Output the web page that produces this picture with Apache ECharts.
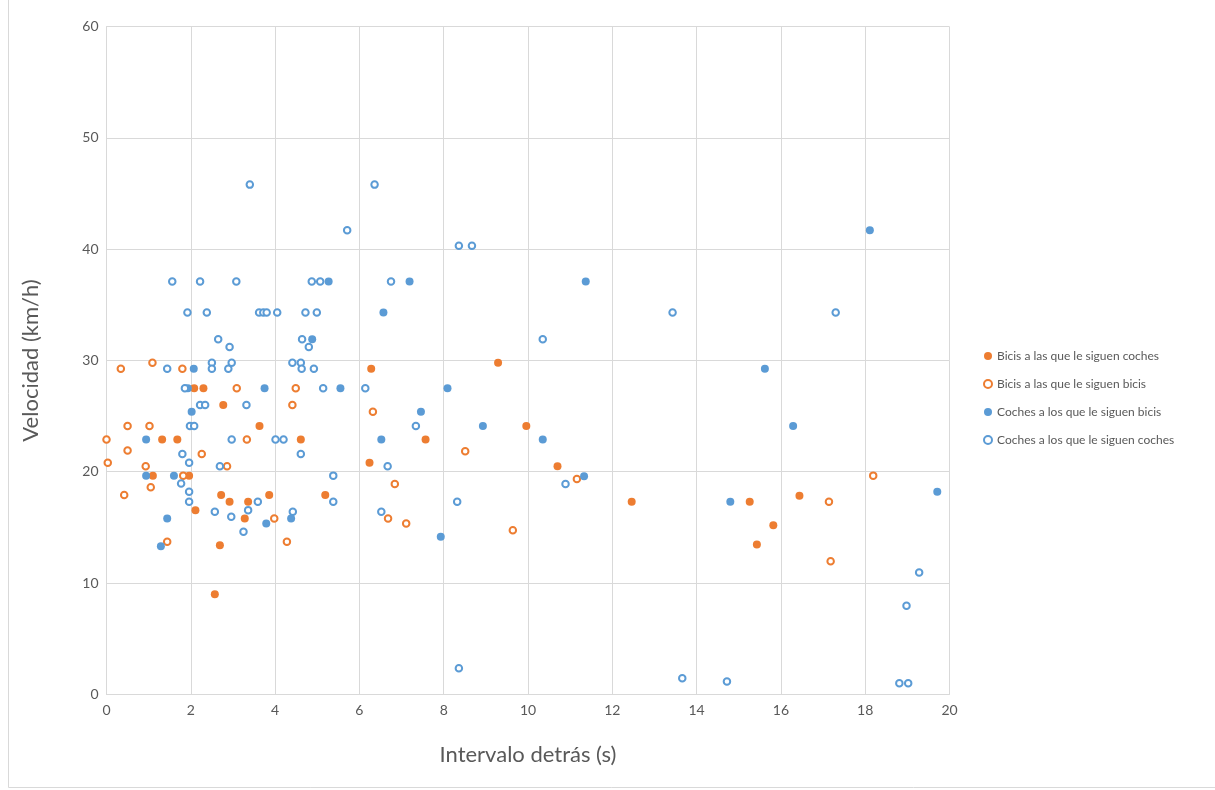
<!DOCTYPE html>
<html>
<head>
<meta charset="utf-8">
<title>Velocidad frente a intervalo detrás</title>
<script src="https://cdn.jsdelivr.net/npm/echarts@6/dist/echarts.min.js"></script>
<style>
  html, body { margin: 0; padding: 0; background: #ffffff; }
  #chart { width: 1215px; height: 790px; }
</style>
</head>
<body>
<div id="chart"></div>
<script>
// Axis ticks
const xTicks = { min: 0, max: 20, step: 2 };
const yTicks = { min: 0, max: 60, step: 10 };

// Series names (legend order)
const seriesNames = [
  'Bicis a las que le siguen coches',
  'Bicis a las que le siguen bicis',
  'Coches a los que le siguen bicis',
  'Coches a los que le siguen coches'
];

// [intervalo detrás (s), velocidad (km/h)]
const bicisCoches = [
  [2.57, 9.0], [2.69, 13.4], [2.11, 16.55], [3.28, 15.8], [2.92, 17.3], [3.36, 17.3],
  [2.72, 17.9], [3.86, 17.9], [1.10, 19.65], [1.96, 19.65], [1.32, 22.9], [1.68, 22.9],
  [4.61, 22.9], [3.63, 24.1], [2.77, 26.0], [2.08, 27.5], [2.30, 27.5], [5.19, 17.9],
  [6.24, 20.8], [6.28, 29.25], [7.57, 22.9], [9.29, 29.8], [9.96, 24.1], [10.7, 20.5],
  [12.46, 17.3], [15.26, 17.3], [15.43, 13.45], [15.82, 15.2], [16.44, 17.85]
];

const bicisBicis = [
  [0.0, 22.9], [0.03, 20.8], [0.34, 29.25], [0.42, 17.9], [0.50, 21.9], [0.50, 24.1],
  [0.93, 20.5], [1.02, 24.1], [1.05, 18.6], [1.09, 29.8], [1.44, 13.7], [1.80, 29.25],
  [1.82, 19.65], [2.26, 21.6], [2.86, 20.5], [3.09, 27.5], [3.33, 22.9], [3.98, 15.8],
  [4.28, 13.7], [4.41, 26.0], [4.49, 27.5], [6.32, 25.4], [6.68, 15.8], [6.84, 18.9],
  [7.11, 15.35], [8.51, 21.85], [9.64, 14.75], [11.16, 19.35], [17.14, 17.3],
  [17.18, 11.95], [18.19, 19.65]
];

const cochesBicis = [
  [0.94, 22.9], [0.94, 19.65], [1.29, 13.3], [1.44, 15.8], [1.60, 19.65], [1.93, 27.5],
  [2.02, 25.4], [2.07, 29.25], [3.75, 27.5], [3.79, 15.35], [4.38, 15.8], [4.88, 31.9],
  [5.27, 37.1], [5.55, 27.5], [6.52, 22.9], [6.57, 34.3], [7.19, 37.1], [7.46, 25.4],
  [7.93, 14.15], [8.09, 27.5], [8.93, 24.1], [10.35, 22.9], [11.33, 19.6], [11.37, 37.1],
  [14.80, 17.3], [15.62, 29.25], [16.29, 24.1], [18.11, 41.7], [19.71, 18.2]
];

const cochesCoches = [
  [1.44, 29.25], [1.56, 37.1], [1.77, 18.95], [1.80, 21.6], [1.86, 27.5], [1.92, 34.3],
  [1.96, 20.8], [1.96, 18.2], [1.96, 17.3], [1.98, 24.1], [2.08, 24.1], [2.22, 37.1],
  [2.22, 26.0], [2.34, 26.0], [2.38, 34.3], [2.50, 29.8], [2.50, 29.25], [2.57, 16.4],
  [2.65, 31.9], [2.69, 20.5], [2.89, 29.25], [2.92, 31.2], [2.96, 15.95], [2.97, 22.9],
  [2.97, 29.8], [3.08, 37.1], [3.25, 14.6], [3.32, 26.0], [3.36, 16.55], [3.40, 45.8],
  [3.59, 17.3], [3.62, 34.3], [3.72, 34.3], [3.80, 34.3], [4.01, 22.9], [4.05, 34.3],
  [4.20, 22.9], [4.41, 29.8], [4.42, 16.4], [4.61, 21.6], [4.61, 29.8], [4.63, 29.25],
  [4.64, 31.9], [4.72, 34.3], [4.80, 31.2], [4.87, 37.1], [4.92, 29.25], [4.99, 34.3],
  [5.07, 37.1], [5.14, 27.5], [5.38, 19.65], [5.38, 17.3], [5.71, 41.7], [6.14, 27.5],
  [6.36, 45.8], [6.52, 16.4], [6.67, 20.5], [6.75, 37.1], [7.34, 24.1], [8.32, 17.3],
  [8.36, 40.3], [8.67, 40.3], [8.36, 2.35], [10.35, 31.9], [10.89, 18.9], [13.43, 34.3],
  [13.66, 1.45], [14.72, 1.15], [17.30, 34.3], [18.81, 1.0], [19.02, 1.0], [18.98, 7.95],
  [19.28, 10.95]
];

const ORANGE = '#ED7D31';
const BLUE = '#5B9BD5';
const GRID = '#D9D9D9';
const TEXT = '#595959';
const FONT = 'Lato, "Open Sans", sans-serif';

function filled(name, data, color) {
  return {
    name: name, type: 'scatter', data: data,
    symbol: 'circle', symbolSize: 8,
    itemStyle: { color: color, opacity: 1 },
    emphasis: { disabled: true }
  };
}
function hollow(name, data, color) {
  return {
    name: name, type: 'scatter', data: data,
    symbol: 'circle', symbolSize: 6.5,
    itemStyle: { color: '#ffffff', borderColor: color, borderWidth: 2, opacity: 1 },
    emphasis: { disabled: true }
  };
}

const chart = echarts.init(document.getElementById('chart'), null, { renderer: 'canvas' });

chart.setOption({
  animation: false,
  backgroundColor: '#ffffff',
  textStyle: { fontFamily: FONT },
  graphic: [
    { type: 'line', shape: { x1: 8.5, y1: 0, x2: 8.5, y2: 787.5 }, style: { stroke: GRID, lineWidth: 1 }, silent: true },
    { type: 'line', shape: { x1: 8.5, y1: 787.5, x2: 1215, y2: 787.5 }, style: { stroke: GRID, lineWidth: 1 }, silent: true }
  ],
  grid: {
    left: 106.5, right: 265.5, top: 26.6, bottom: 95.7,
    containLabel: false, outerBoundsMode: 'none'
  },
  legend: {
    orient: 'vertical', left: 978, top: 344,
    itemWidth: 8, itemHeight: 8, itemGap: 14,
    icon: 'circle',
    data: seriesNames,
    textStyle: { color: TEXT, fontSize: 12, lineHeight: 14, fontFamily: FONT }
  },
  xAxis: {
    type: 'value', min: xTicks.min, max: xTicks.max, interval: xTicks.step,
    name: 'Intervalo detrás (s)', nameLocation: 'middle', nameGap: 50,
    nameTextStyle: { color: TEXT, fontSize: 22, fontFamily: FONT },
    axisLine: { show: true, lineStyle: { color: GRID, width: 1 } },
    axisTick: { show: false },
    axisLabel: { color: TEXT, fontSize: 14, margin: 9, fontFamily: FONT },
    splitLine: { show: true, lineStyle: { color: GRID, width: 1 } }
  },
  yAxis: {
    type: 'value', min: yTicks.min, max: yTicks.max, interval: yTicks.step,
    name: 'Velocidad (km/h)', nameLocation: 'middle', nameGap: 65,
    nameTextStyle: { color: TEXT, fontSize: 22, fontFamily: FONT },
    axisLine: { show: true, lineStyle: { color: GRID, width: 1 } },
    axisTick: { show: false },
    axisLabel: { color: TEXT, fontSize: 14, margin: 8, fontFamily: FONT },
    splitLine: { show: true, lineStyle: { color: GRID, width: 1 } }
  },
  series: [
    filled(seriesNames[0], bicisCoches, ORANGE),
    hollow(seriesNames[1], bicisBicis, ORANGE),
    filled(seriesNames[2], cochesBicis, BLUE),
    hollow(seriesNames[3], cochesCoches, BLUE)
  ]
});
</script>
</body>
</html>
